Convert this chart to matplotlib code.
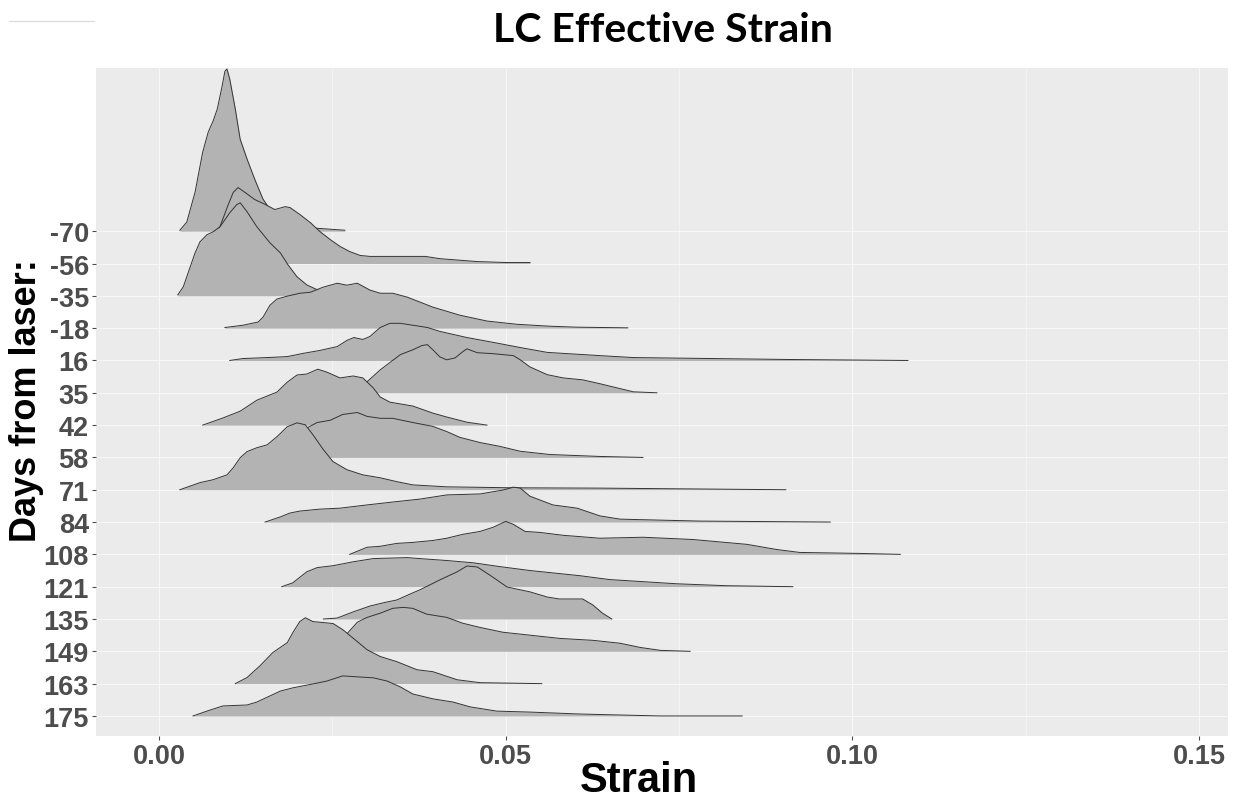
import matplotlib
matplotlib.use("Agg")
import matplotlib.pyplot as plt
from matplotlib.lines import Line2D

# Group labels, top row first
days = ["-70", "-56", "-35", "-18", "16", "35", "42", "58",
        "71", "84", "108", "121", "135", "149", "163", "175"]

# Ridge outlines: strain values and ridge heights (in row-spacing units)
d_m70_x = [0.0030, 0.0040, 0.0052, 0.0063, 0.0071, 0.0078, 0.0084, 0.0091, 0.0095, 0.0098, 0.0102,
           0.0110, 0.0117, 0.0127, 0.0138, 0.0150, 0.0160, 0.0182, 0.0203, 0.0228, 0.0268]
d_m70_h = [0.03, 0.28, 1.21, 2.45, 3.07, 3.41, 3.78, 4.49, 4.95, 5.02, 4.71,
           3.78, 2.85, 2.23, 1.61, 0.99, 0.68, 0.37, 0.19, 0.09, 0.03]

d_m56_x = [0.0062, 0.0074, 0.0088, 0.0100, 0.0107, 0.0114, 0.0124, 0.0138, 0.0153, 0.0167, 0.0182,
           0.0189, 0.0203, 0.0218, 0.0232, 0.0247, 0.0261, 0.0275, 0.0290, 0.0304, 0.0348, 0.0384,
           0.0405, 0.0459, 0.0502, 0.0535]
d_m56_h = [0.06, 0.50, 1.15, 1.83, 2.20, 2.35, 2.20, 1.98, 1.83, 1.67, 1.76,
           1.73, 1.52, 1.27, 0.99, 0.74, 0.53, 0.37, 0.25, 0.22, 0.22, 0.22,
           0.15, 0.06, 0.03, 0.03]

d_m35_x = [0.0027, 0.0035, 0.0045, 0.0052, 0.0059, 0.0069, 0.0078, 0.0088, 0.0102, 0.0112, 0.0117,
           0.0127, 0.0141, 0.0160, 0.0175, 0.0186, 0.0199, 0.0213, 0.0228, 0.0247, 0.0275]
d_m35_h = [0.03, 0.28, 0.90, 1.33, 1.67, 1.89, 1.98, 2.14, 2.57, 2.82, 2.88,
           2.60, 2.14, 1.64, 1.33, 0.96, 0.59, 0.34, 0.19, 0.09, 0.03]

d_m18_x = [0.0095, 0.0121, 0.0143, 0.0150, 0.0160, 0.0170, 0.0185, 0.0203, 0.0218, 0.0237, 0.0257,
           0.0271, 0.0286, 0.0304, 0.0319, 0.0337, 0.0358, 0.0395, 0.0434, 0.0473, 0.0516, 0.0564,
           0.0603, 0.0676]
d_m18_h = [0.02, 0.09, 0.19, 0.34, 0.71, 0.90, 0.99, 1.08, 1.11, 1.27, 1.39,
           1.33, 1.39, 1.18, 1.08, 1.08, 0.96, 0.65, 0.40, 0.22, 0.12, 0.06,
           0.03, 0.01]

d_16_x = [0.0102, 0.0121, 0.0156, 0.0185, 0.0208, 0.0232, 0.0257, 0.0271, 0.0281, 0.0294, 0.0304,
          0.0319, 0.0333, 0.0348, 0.0387, 0.0405, 0.0444, 0.0482, 0.0521, 0.0560, 0.0636, 0.0684,
          0.0910, 0.1080]
d_16_h = [0.00, 0.06, 0.09, 0.12, 0.22, 0.31, 0.43, 0.62, 0.71, 0.65, 0.74,
          1.02, 1.15, 1.15, 1.02, 0.90, 0.71, 0.56, 0.40, 0.25, 0.15, 0.09,
          0.03, 0.00]

d_35_x = [0.0284, 0.0300, 0.0319, 0.0348, 0.0366, 0.0379, 0.0387, 0.0395, 0.0405, 0.0415, 0.0427,
          0.0438, 0.0444, 0.0459, 0.0482, 0.0511, 0.0521, 0.0535, 0.0560, 0.0583, 0.0611, 0.0636,
          0.0661, 0.0684, 0.0718]
d_35_h = [0.00, 0.34, 0.71, 1.18, 1.33, 1.46, 1.49, 1.33, 1.11, 1.02, 1.08,
          1.27, 1.36, 1.24, 1.21, 1.15, 1.02, 0.80, 0.56, 0.46, 0.40, 0.28,
          0.15, 0.03, 0.00]

d_42_x = [0.0063, 0.0092, 0.0117, 0.0141, 0.0156, 0.0170, 0.0185, 0.0199, 0.0213, 0.0229, 0.0242,
          0.0261, 0.0280, 0.0294, 0.0309, 0.0319, 0.0333, 0.0366, 0.0395, 0.0415, 0.0444, 0.0473]
d_42_h = [0.00, 0.22, 0.43, 0.77, 0.90, 1.02, 1.33, 1.55, 1.58, 1.73, 1.64,
          1.46, 1.52, 1.46, 1.15, 0.87, 0.71, 0.59, 0.37, 0.25, 0.09, 0.00]

d_58_x = [0.0160, 0.0189, 0.0215, 0.0228, 0.0247, 0.0265, 0.0286, 0.0300, 0.0319, 0.0337, 0.0366,
          0.0395, 0.0415, 0.0434, 0.0463, 0.0492, 0.0521, 0.0564, 0.0636, 0.0698]
d_58_h = [0.00, 0.45, 0.93, 1.08, 1.15, 1.33, 1.39, 1.27, 1.21, 1.21, 1.08,
          0.96, 0.80, 0.62, 0.46, 0.34, 0.19, 0.09, 0.03, 0.00]

d_71_x = [0.0030, 0.0059, 0.0078, 0.0098, 0.0107, 0.0117, 0.0127, 0.0141, 0.0156, 0.0170, 0.0185,
          0.0199, 0.0211, 0.0222, 0.0237, 0.0251, 0.0271, 0.0294, 0.0319, 0.0343, 0.0366, 0.0415,
          0.0511, 0.0636, 0.0904]
d_71_h = [0.00, 0.22, 0.31, 0.46, 0.68, 0.99, 1.18, 1.30, 1.39, 1.64, 1.95,
          2.07, 2.01, 1.70, 1.24, 0.87, 0.62, 0.46, 0.37, 0.25, 0.15, 0.09,
          0.06, 0.05, 0.00]

d_84_x = [0.0153, 0.0175, 0.0189, 0.0203, 0.0232, 0.0261, 0.0300, 0.0337, 0.0376, 0.0415, 0.0463,
          0.0496, 0.0511, 0.0521, 0.0535, 0.0568, 0.0603, 0.0636, 0.0665, 0.0780, 0.0968]
d_84_h = [0.00, 0.16, 0.28, 0.34, 0.40, 0.43, 0.53, 0.62, 0.71, 0.84, 0.87,
          0.99, 1.08, 1.05, 0.80, 0.53, 0.43, 0.19, 0.09, 0.03, 0.00]

d_108_x = [0.0275, 0.0300, 0.0319, 0.0343, 0.0366, 0.0395, 0.0415, 0.0438, 0.0463, 0.0482, 0.0500,
           0.0511, 0.0528, 0.0549, 0.0583, 0.0636, 0.0698, 0.0770, 0.0848, 0.0891, 0.0924, 0.1010,
           0.1069]
d_108_h = [0.00, 0.22, 0.25, 0.34, 0.37, 0.43, 0.50, 0.62, 0.71, 0.84, 1.02,
           0.93, 0.71, 0.68, 0.59, 0.50, 0.53, 0.46, 0.31, 0.15, 0.06, 0.03,
           0.00]

d_121_x = [0.0177, 0.0193, 0.0213, 0.0228, 0.0251, 0.0280, 0.0309, 0.0358, 0.0376, 0.0415, 0.0453,
           0.0492, 0.0535, 0.0607, 0.0650, 0.0747, 0.0819, 0.0914]
d_121_h = [0.00, 0.12, 0.46, 0.59, 0.65, 0.77, 0.87, 0.90, 0.87, 0.81, 0.74,
           0.62, 0.50, 0.34, 0.22, 0.09, 0.03, 0.00]

d_135_x = [0.0237, 0.0257, 0.0280, 0.0304, 0.0323, 0.0343, 0.0366, 0.0376, 0.0405, 0.0430, 0.0444,
           0.0459, 0.0477, 0.0502, 0.0535, 0.0560, 0.0577, 0.0611, 0.0626, 0.0639, 0.0653]
d_135_h = [0.00, 0.03, 0.22, 0.40, 0.50, 0.59, 0.81, 0.90, 1.21, 1.46, 1.64,
           1.61, 1.36, 0.99, 0.84, 0.68, 0.62, 0.62, 0.43, 0.19, 0.00]

d_149_x = [0.0247, 0.0273, 0.0286, 0.0300, 0.0319, 0.0337, 0.0352, 0.0366, 0.0386, 0.0415, 0.0438,
           0.0463, 0.0496, 0.0535, 0.0578, 0.0626, 0.0665, 0.0694, 0.0723, 0.0766]
d_149_h = [0.00, 0.59, 0.90, 1.05, 1.18, 1.33, 1.36, 1.33, 1.15, 1.05, 0.87,
           0.74, 0.59, 0.50, 0.40, 0.34, 0.25, 0.12, 0.03, 0.00]

d_163_x = [0.0110, 0.0127, 0.0146, 0.0164, 0.0185, 0.0193, 0.0203, 0.0211, 0.0222, 0.0237, 0.0251,
           0.0265, 0.0286, 0.0300, 0.0319, 0.0343, 0.0372, 0.0395, 0.0430, 0.0463, 0.0552]
d_163_h = [0.00, 0.19, 0.56, 0.96, 1.27, 1.58, 1.92, 2.04, 1.92, 1.89, 1.86,
           1.67, 1.30, 1.05, 0.84, 0.68, 0.43, 0.37, 0.12, 0.03, 0.00]

d_175_x = [0.0049, 0.0069, 0.0092, 0.0127, 0.0141, 0.0160, 0.0175, 0.0193, 0.0222, 0.0242, 0.0265,
           0.0286, 0.0309, 0.0329, 0.0348, 0.0366, 0.0395, 0.0424, 0.0449, 0.0487, 0.0535, 0.0607,
           0.0723, 0.0841]
d_175_h = [0.00, 0.15, 0.31, 0.34, 0.43, 0.62, 0.77, 0.87, 0.99, 1.08, 1.24,
           1.21, 1.18, 1.08, 0.90, 0.68, 0.53, 0.43, 0.28, 0.15, 0.12, 0.06,
           0.00, 0.00]

ridges = [
    (d_m70_x, d_m70_h), (d_m56_x, d_m56_h), (d_m35_x, d_m35_h), (d_m18_x, d_m18_h),
    (d_16_x, d_16_h), (d_35_x, d_35_h), (d_42_x, d_42_h), (d_58_x, d_58_h),
    (d_71_x, d_71_h), (d_84_x, d_84_h), (d_108_x, d_108_h), (d_121_x, d_121_h),
    (d_135_x, d_135_h), (d_149_x, d_149_h), (d_163_x, d_163_h), (d_175_x, d_175_h),
]

x_ticks = [0.00, 0.05, 0.10, 0.15]
x_tick_labels = ["0.00", "0.05", "0.10", "0.15"]
x_minor = [0.025, 0.075, 0.125]

FONT = "Liberation Sans"
PANEL_BG = "#EBEBEB"
FILL = "#B3B3B3"
EDGE = "#333333"

fig = plt.figure(figsize=(12.41, 8.04), dpi=100)
ax = fig.add_axes([96 / 1241, 1 - 737 / 804, (1228 - 96) / 1241, (737 - 69) / 804])
ax.set_facecolor(PANEL_BG)

n = len(days)
baselines = [n - 1 - i for i in range(n)]

# grid
for xv in x_minor:
    ax.axvline(xv, color="#F7F7F7", lw=0.5, zorder=0)
for xv in x_ticks:
    ax.axvline(xv, color="#F7F7F7", lw=0.8, zorder=0)
for b in baselines:
    ax.axhline(b, color="#F7F7F7", lw=0.8, zorder=0)

# ridges, upper rows first so lower rows sit on top
for i, ((xs, hs), base) in enumerate(zip(ridges, baselines)):
    top = [base + h for h in hs]
    ax.fill_between(xs, base, top, color=FILL, lw=0, zorder=2 + 2 * i)
    ax.plot(xs, top, color=EDGE, lw=0.7, zorder=3 + 2 * i, solid_joinstyle="round")

ax.set_xlim(-0.00909, 0.15417)
ax.set_ylim(-0.62, 20.05)

ax.set_xticks(x_ticks)
ax.set_xticklabels(x_tick_labels)
ax.set_yticks(baselines)
ax.set_yticklabels(days)
ax.tick_params(axis="both", which="major", length=3.2, width=0.8, color="#4D4D4D",
               labelcolor="#4D4D4D", labelsize=19.5, pad=2)
for lab in ax.get_xticklabels() + ax.get_yticklabels():
    lab.set_fontfamily(FONT)
    lab.set_fontweight("bold")
for s in ax.spines.values():
    s.set_visible(False)

fig.text(639 / 1241, 1 - 781 / 804, "Strain", ha="center", va="center",
         fontsize=30, fontweight="bold", family=FONT, color="black")
fig.text(27 / 1241, 1 - 401 / 804, "Days from laser:", ha="center", va="center",
         rotation=90, fontsize=26, fontweight="bold", family=FONT, color="black")
fig.text(663 / 1241, 1 - 31 / 804, "LC Effective Strain", ha="center", va="center",
         fontsize=29.5, fontweight="bold", family="Lato", color="black")

# thin rule in the upper-left corner
fig.add_artist(Line2D([9 / 1241, 94 / 1241], [1 - 22 / 804, 1 - 22 / 804],
                      color="#DDDDDD", lw=1.0))

fig.savefig("out.png", dpi=100, facecolor="white")
